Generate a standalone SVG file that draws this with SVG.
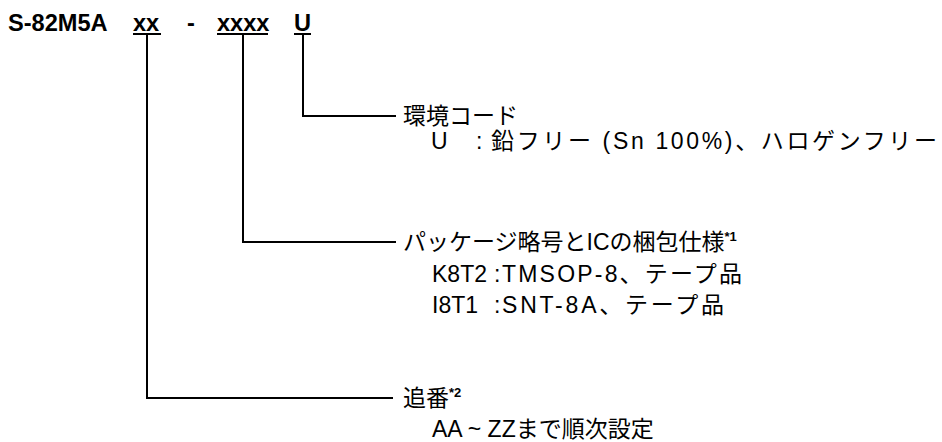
<svg xmlns="http://www.w3.org/2000/svg" width="942" height="442" viewBox="0 0 942 442">
<style>
.t{font-family:"Liberation Sans","Noto Sans CJK JP",sans-serif;font-size:23px;fill:#000}
.b{font-family:"Liberation Sans",Arial,sans-serif;font-size:23.6px;font-weight:bold;fill:#000}
.sup{font-family:"Liberation Sans",sans-serif;font-size:13px;font-weight:bold;fill:#000}
.ln{fill:none;stroke:#000;stroke-width:2}
</style>
<rect width="942" height="442" fill="#fff"/>
<g id="title">
<text class="b" x="8" y="31">S-82M5A</text>
<text class="b" x="133" y="31">xx</text>
<text class="b" x="187" y="31">-</text>
<text class="b" x="217" y="31">xxxx</text>
<text class="b" x="294" y="31">U</text>
<path class="ln" d="M133 34H161M217 34H268M294 34H311"/>
</g>
<g id="connectors">
<path class="ln" d="M303 35V116H396"/>
<path class="ln" d="M243 35V242H396"/>
<path class="ln" d="M147 35V398H393"/>
</g>
<g id="env">
<text class="t" x="403" y="124">環境コード</text>
<text class="t" x="431" y="149">U</text>
<text class="t" x="476" y="149">:</text>
<text class="t" x="491" y="149" textLength="446" lengthAdjust="spacing">鉛フリー (Sn 100%)、ハロゲンフリー</text>
</g>
<g id="pkg">
<text class="t" x="403" y="250">パッケージ略号とICの梱包仕様<tspan class="sup" dy="-9">*1</tspan></text>
<text class="t" x="432" y="282">K8T2</text>
<text class="t" x="494" y="282">:</text>
<text class="t" x="502" y="282" textLength="240" lengthAdjust="spacing">TMSOP-8、テープ品</text>
<text class="t" x="432" y="313">I8T1</text>
<text class="t" x="494" y="313">:</text>
<text class="t" x="502" y="313" textLength="222" lengthAdjust="spacing">SNT-8A、テープ品</text>
</g>
<g id="serial">
<text class="t" x="403" y="406">追番<tspan class="sup" dy="-9">*2</tspan></text>
<text class="t" x="432" y="437">AA ~ ZZまで順次設定</text>
</g>
</svg>
